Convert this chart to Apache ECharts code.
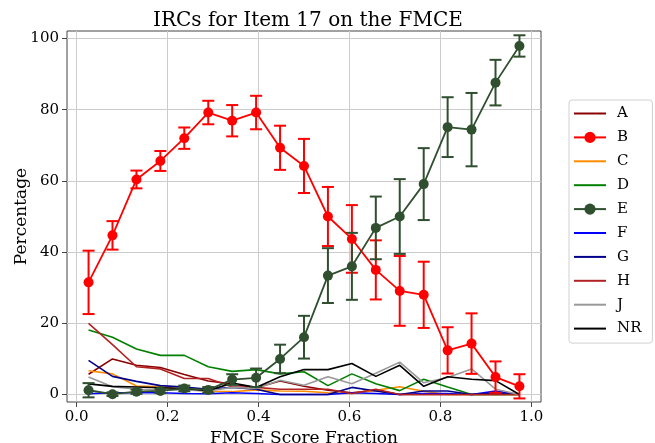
<!DOCTYPE html>
<html>
<head>
<meta charset="utf-8">
<script src="https://cdn.jsdelivr.net/npm/echarts@6/dist/echarts.min.js"></script>
<style>
html,body{margin:0;padding:0;background:#fff;}
#chart{width:655px;height:443px;}
</style>
</head>
<body>
<div id="chart"></div>
<script>
// ---- data ----
const xs = [0.0263, 0.0789, 0.1316, 0.1842, 0.2368, 0.2895, 0.3421, 0.3947, 0.4474, 0.5,
            0.5526, 0.6053, 0.6579, 0.7105, 0.7632, 0.8158, 0.8684, 0.9211, 0.9737];
const xTicks = [0, 0.2, 0.4, 0.6, 0.8, 1.0];
const yTicks = [0, 20, 40, 60, 80, 100];
const seriesNames = ['A', 'B', 'C', 'D', 'E', 'F', 'G', 'H', 'J', 'NR'];

const A  = [5.7, 10.0, 8.2, 7.6, 5.6, 3.8, 3.0, 1.9, 3.8, 2.3, 1.2, 0.5, 1.2, 0, 0, 0, 0, 0, 0];
const B  = [31.5, 44.7, 60.4, 65.6, 72.0, 79.2, 76.9, 79.2, 69.3, 64.2, 50.0, 43.7, 35.0, 29.1, 28.0, 12.4, 14.3, 4.9, 2.3];
const Berr = [8.9, 4.0, 2.5, 2.8, 3.0, 3.3, 4.4, 4.7, 6.2, 7.6, 8.3, 9.5, 8.3, 9.8, 9.3, 6.5, 8.5, 4.4, 3.4];
const C  = [6.7, 5.8, 2.4, 2.2, 1.5, 0.9, 0.8, 1.3, 1.0, 0.9, 0.5, 0.3, 1.2, 2.2, 0.9, 0, 0, 0, 0];
const D  = [18.1, 16.1, 12.8, 11.0, 11.0, 7.8, 6.5, 7.0, 5.8, 6.4, 2.5, 5.8, 3.0, 1.1, 4.3, 2.1, 0, 0, 0];
const E  = [1.2, 0.1, 0.8, 1.0, 1.7, 1.3, 4.2, 4.7, 10.0, 16.1, 33.4, 36.0, 46.8, 50.0, 59.1, 75.1, 74.4, 87.6, 97.9];
const Eerr = [2.0, 0.5, 0.6, 0.6, 0.8, 0.8, 1.5, 2.6, 4.0, 6.0, 7.7, 9.4, 8.8, 10.5, 10.1, 8.4, 10.3, 6.4, 3.0];
const F  = [0.2, 0.5, 0.5, 0.5, 0.3, 0.2, 0.5, 0.3, 0, 0, 0, 0.5, 0.3, 0, 0.3, 0.3, 0, 1.0, 0];
const G  = [9.6, 5.1, 3.7, 2.5, 2.1, 1.5, 2.0, 1.5, 0, 0, 0, 2.0, 1.0, 0, 1.0, 1.0, 0, 0.5, 0];
const H  = [20.0, 14.0, 7.8, 7.2, 4.5, 4.5, 2.2, 2.0, 1.5, 1.5, 1.5, 0.3, 1.5, 0, 0, 0, 0, 0, 0];
const J  = [4.9, 2.2, 1.5, 1.3, 1.3, 1.0, 2.0, 1.7, 4.0, 2.6, 5.0, 3.0, 6.0, 9.1, 3.3, 4.8, 7.2, 1.5, 0];
const NR = [3.0, 2.3, 2.1, 1.9, 1.7, 1.1, 3.2, 2.0, 5.0, 7.0, 7.0, 8.7, 5.1, 8.2, 2.3, 5.0, 4.3, 3.9, 0];

// ---- styling ----
const FONT = 'DejaVu Serif';
const colors = {
  A: '#8b0000', B: '#ff0000', C: '#ff8c00', D: '#008000', E: '#2f4f2f',
  F: '#0000ff', G: '#00008b', H: '#b22222', J: '#999999', NR: '#000000'
};
const values = { A, B, C, D, E, F, G, H, J, NR };
const markerSeries = ['B', 'E'];
const LINE_ICON = 'path://M0,0 L32,0 L32,2 L0,2 Z';

function pairs(arr) { return arr.map((v, i) => [xs[i], v]); }
function errData(arr, err) { return arr.map((v, i) => [xs[i], v - err[i], v + err[i]]); }

function errSeries(name, arr, err, color) {
  return {
    type: 'custom',
    name: name + '_err',
    data: errData(arr, err),
    encode: { x: 0, y: [1, 2] },
    z: 3,
    renderItem: function (params, api) {
      const x = api.value(0), lo = api.value(1), hi = api.value(2);
      const p1 = api.coord([x, lo]);
      const p2 = api.coord([x, hi]);
      const w = 6;
      const st = { stroke: color, lineWidth: 2 };
      return {
        type: 'group',
        children: [
          { type: 'line', shape: { x1: p1[0], y1: p1[1], x2: p2[0], y2: p2[1] }, style: st },
          { type: 'line', shape: { x1: p1[0] - w, y1: p1[1], x2: p1[0] + w, y2: p1[1] }, style: st },
          { type: 'line', shape: { x1: p2[0] - w, y1: p2[1], x2: p2[0] + w, y2: p2[1] }, style: st }
        ]
      };
    }
  };
}

const series = [];
seriesNames.forEach(function (n) {
  const withMarker = markerSeries.indexOf(n) >= 0;
  series.push({
    type: 'line',
    name: n,
    data: pairs(values[n]),
    symbol: withMarker ? 'circle' : 'none',
    symbolSize: withMarker ? 10 : 0,
    showSymbol: withMarker,
    clip: false,
    z: withMarker ? 4 : 2,
    lineStyle: { color: colors[n], width: withMarker ? 1.8 : 1.6 },
    itemStyle: { color: colors[n] },
    emphasis: { disabled: true },
    animation: false
  });
});
series.push(errSeries('B', B, Berr, colors.B));
series.push(errSeries('E', E, Eerr, colors.E));

const legendData = seriesNames.map(function (n) {
  return markerSeries.indexOf(n) >= 0 ? { name: n } : { name: n, icon: LINE_ICON };
});

const chart = echarts.init(document.getElementById('chart'), null, { renderer: 'canvas' });
chart.setOption({
  animation: false,
  backgroundColor: '#ffffff',
  textStyle: { fontFamily: FONT },
  title: {
    text: 'IRCs for Item 17 on the FMCE',
    left: 148,
    top: 6,
    textStyle: { fontFamily: FONT, fontSize: 20, fontWeight: 'normal', color: '#000' }
  },
  grid: {
    left: 67, right: 114, top: 31, bottom: 41,
    outerBoundsMode: 'none',
    containLabel: false,
    show: true, borderColor: '#444', borderWidth: 1, backgroundColor: 'transparent'
  },
  legend: {
    data: legendData,
    orient: 'vertical',
    left: 569,
    top: 100,
    itemWidth: 32,
    itemHeight: 14,
    itemGap: 8.9,
    symbolKeepAspect: true,
    padding: [6, 11, 7, 4],
    borderColor: '#d0d0d0',
    borderWidth: 1,
    borderRadius: 3,
    backgroundColor: '#fff',
    textStyle: { fontFamily: FONT, fontSize: 15, color: '#000', padding: [0, 0, 0, 6] }
  },
  xAxis: {
    type: 'value',
    min: -0.0211,
    max: 1.0211,
    name: 'FMCE Score Fraction',
    nameLocation: 'middle',
    nameGap: 25,
    nameTextStyle: { fontFamily: FONT, fontSize: 17, color: '#000' },
    axisLine: { show: false, onZero: false },
    axisTick: { show: true, length: 5, customValues: xTicks, lineStyle: { color: '#444' } },
    axisLabel: {
      customValues: xTicks, margin: 8,
      fontFamily: FONT, fontSize: 15, color: '#000',
      formatter: function (v) { return v.toFixed(1); }
    },
    splitLine: { show: true, lineStyle: { color: '#cccccc', width: 1 } }
  },
  yAxis: {
    type: 'value',
    min: -2.1,
    max: 102.1,
    name: 'Percentage',
    nameLocation: 'middle',
    nameGap: 37,
    nameMoveOverlap: false,
    nameTextStyle: { fontFamily: FONT, fontSize: 17, color: '#000' },
    axisLine: { show: false, onZero: false },
    axisTick: { show: true, length: 5, customValues: yTicks, lineStyle: { color: '#444' } },
    axisLabel: {
      customValues: yTicks, margin: 8,
      fontFamily: FONT, fontSize: 15, color: '#000',
      formatter: function (v) { return String(Math.round(v)); }
    },
    splitLine: { show: true, lineStyle: { color: '#cccccc', width: 1 } }
  },
  series: series
});
</script>
</body>
</html>
